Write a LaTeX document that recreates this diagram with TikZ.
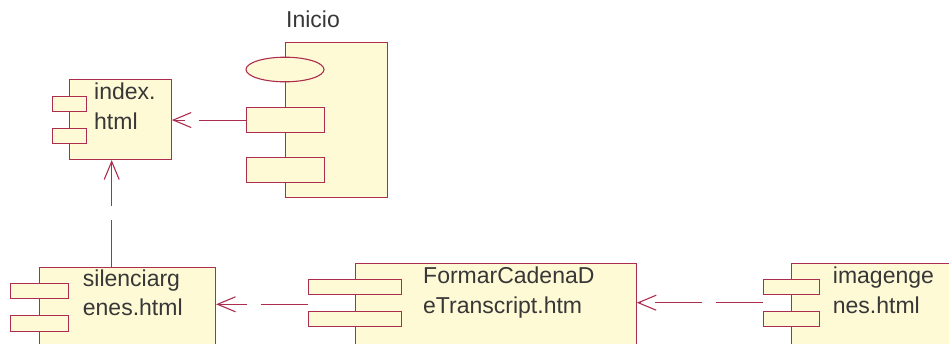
\documentclass[tikz,border=0pt]{standalone}
\usepackage{fontspec}
\setmainfont{Liberation Sans}
\usetikzlibrary{arrows.meta,shapes.geometric}
\definecolor{lc}{RGB}{172,45,78}
\definecolor{fc}{RGB}{255,250,214}
\definecolor{tc}{RGB}{55,55,55}
\tikzset{
  box/.style={draw=lc, fill=fc, line width=1.1pt, inner sep=0pt, anchor=north west, rectangle},
  lbl/.style={anchor=base west, inner sep=0pt, text=tc, font=\fontsize{23}{30}\selectfont},
  dep/.style={draw=lc, line width=1.1pt, dash pattern=on 47pt off 14pt,
    -{Straight Barb[length=18pt,width=15pt,line width=1.1pt]}},
}
\begin{document}
\begin{tikzpicture}[x=1pt,y=-1pt]
\useasboundingbox (0,0) rectangle (949,343);
% index.html
\node[box, minimum width=101.4pt, minimum height=79.7pt] (idx) at (69.3,79.3) {};
\node[box, minimum width=33.7pt, minimum height=15.3pt] (idxa) at (52.3,95.7) {};
\node[box, minimum width=33.7pt, minimum height=15.3pt] (idxb) at (52.3,127.7) {};
\node[lbl] (idxt1) at (94,99.5) {index.};
\node[lbl] (idxt2) at (94,129) {html};
% Inicio
\node[box, minimum width=102pt, minimum height=155pt] (ini) at (285,42) {};
\node[draw=lc, fill=fc, line width=1.1pt, ellipse, inner sep=0pt, minimum width=78pt, minimum height=24.6pt] (inie) at (285,69.5) {};
\node[box, minimum width=78pt, minimum height=24.4pt] (ini1) at (246,107.3) {};
\node[box, minimum width=78pt, minimum height=24.4pt] (ini2) at (246,157.3) {};
\node[lbl] (init) at (286,27.3) {Inicio};
% silenciargenes.html
\node[box, minimum width=175.7pt, minimum height=78pt] (sil) at (39.3,266.7) {};
\node[box, minimum width=58.3pt, minimum height=15.6pt] (sila) at (10,282.7) {};
\node[box, minimum width=58.3pt, minimum height=15.6pt] (silb) at (10,315) {};
\node[lbl] (silt1) at (82.7,286) {silenciarg};
\node[lbl] (silt2) at (82.7,315.5) {enes.html};
% FormarCadenaDeTranscript.htm
\node[box, minimum width=280.4pt, minimum height=81pt] (frm) at (355.3,263.3) {};
\node[box, minimum width=92.7pt, minimum height=15pt] (frma) at (308.3,279.3) {};
\node[box, minimum width=92.7pt, minimum height=15pt] (frmb) at (308.3,311) {};
\node[lbl] (frmt1) at (423,283.5) {FormarCadenaD};
\node[lbl] (frmt2) at (423,313.5) {eTranscript.htm};
% imagengenes.html
\node[box, minimum width=175pt, minimum height=81pt] (img) at (791,263.3) {};
\node[box, minimum width=56.3pt, minimum height=15pt] (imga) at (762.7,279.3) {};
\node[box, minimum width=56.3pt, minimum height=15pt] (imgb) at (762.7,311) {};
\node[lbl] (imgt1) at (832.7,283.5) {imagenge};
\node[lbl] (imgt2) at (832.7,313.5) {nes.html};
% connectors
\coordinate (vx) at (111.7,0);
\coordinate (hy1) at (0,304.3);
\coordinate (hy2) at (0,302.7);
\draw[dep] (ini1.west) -- (idx.east |- ini1.west);
\draw[dep] (sil.north -| vx) -- (idx.south -| vx);
\draw[dep] (frma.west |- hy1) -- (sil.east |- hy1);
\draw[dep] (imga.west |- hy2) -- (frm.east |- hy2);
\end{tikzpicture}
\end{document}
